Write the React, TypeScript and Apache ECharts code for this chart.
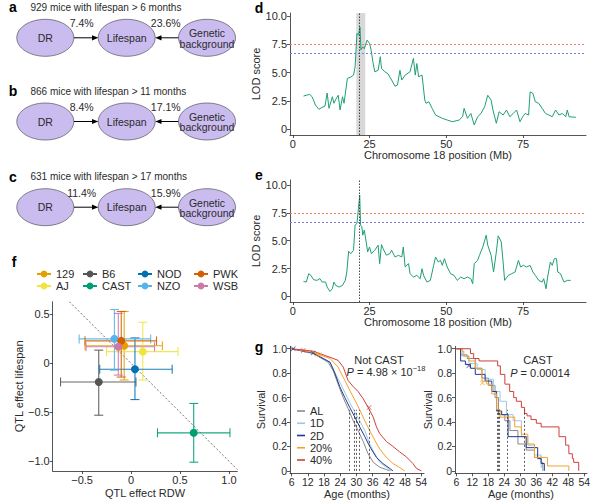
import React, { useEffect, useRef } from "react";
import * as echarts from "echarts";

const FONT = "'Liberation Sans', Arial, Helvetica, sans-serif";
const INK = "#2a2a2a";

// ---------- panels a-c ----------
const diagramLetters = ["a", "b", "c"];
const diagramTitles = [
  "929 mice with lifespan > 6 months",
  "866 mice with lifespan > 11 months",
  "631 mice with lifespan > 17 months",
];
const drPct = ["7.4%", "8.4%", "11.4%"];
const genPct = ["23.6%", "17.1%", "15.9%"];

// ---------- panels d, e ----------
const lodD: [number, number][] = [[3.5,2.93],[5.5,3.08],[6.3,2.87],[7.4,2.14],[8.5,1.76],[9.6,1.94],[10.5,2.05],[11.2,3.2],[11.8,1.85],[12.9,2.87],[13.4,2.3],[14,2.64],[14.8,3.0],[15.4,1.7],[16.2,2.87],[16.7,2.3],[17.8,4.5],[18.9,4.6],[19.8,4.78],[20.3,5.5],[20.9,8.45],[21.4,8.3],[21.9,9.0],[22.2,7.0],[22.8,7.27],[23.3,7.1],[24.2,7.86],[25,7.57],[25.5,7.0],[26.1,5.95],[26.7,5.07],[27.8,5.2],[28.5,6.4],[28.9,5.37],[30,5.07],[31,4.9],[32.2,4.34],[33.3,3.8],[34.1,3.9],[34.9,5.2],[35.5,4.34],[36.6,4.78],[38.2,5.07],[39.3,6.25],[39.9,4.78],[40.4,5.8],[41,4.63],[42.1,4.78],[43,2.58],[43.4,2.29],[44.3,2.43],[45.4,1.85],[46.5,1.26],[47.6,1.11],[48.7,0.97],[50.3,0.82],[52,0.67],[54.2,0.82],[55.3,1.11],[55.8,1.85],[56.9,0.97],[58,1.4],[59.1,0.38],[60.2,1.11],[61.3,1.4],[62.5,2.0],[63.5,3.0],[64.6,2.58],[65.2,1.7],[66.3,0.53],[67.2,1.55],[68.5,1.26],[69.6,1.7],[70.7,1.11],[71.8,1.4],[72.9,1.7],[74,0.67],[74.9,1.11],[75.7,1.4],[76.8,1.26],[77.3,3.3],[78.2,3.17],[79,2.43],[80.1,2.29],[81.2,1.85],[82.3,1.4],[83.4,1.26],[84.5,1.11],[85.6,1.7],[86.7,1.26],[87.8,1.4],[88.9,1.11],[89.4,1.7],[90,1.11],[92.2,1.06]];
const lodE: [number, number][] = [[3.5,1.35],[4.4,1.29],[5.2,2.04],[5.9,1.89],[6.8,1.5],[7.9,1.44],[8.8,1.6],[9.6,1.29],[10.7,1.29],[11.2,0.84],[12.1,0.45],[12.9,0.69],[13.4,1.29],[14,0.99],[15.1,0.84],[16.2,0.99],[17.1,1.44],[17.6,2.19],[18.2,4.05],[18.9,3.84],[19.8,4.14],[20.3,6.4],[20.9,6.55],[21.4,7.9],[21.8,9.1],[22.1,6.4],[22.5,6.25],[22.8,5.5],[23.3,5.95],[23.9,4.9],[24.4,4.0],[25,4.44],[25.6,3.84],[26.7,4.14],[27.8,4.6],[28.3,2.94],[28.9,4.65],[29.4,4.3],[30.5,3.7],[31.6,3.84],[32.2,4.14],[33.3,3.54],[34.4,3.69],[35.5,3.54],[36,4.44],[36.6,2.64],[37.7,2.94],[38.2,2.04],[39.3,1.74],[40.4,1.89],[41.5,1.59],[42.1,2.49],[42.6,1.89],[43.7,1.29],[44.8,1.44],[45.9,2.79],[46.5,3.54],[47.4,3.09],[48.1,3.24],[48.7,2.79],[49.4,3.39],[50.3,2.64],[51.4,2.04],[52.5,1.89],[53.6,1.44],[54.7,1.74],[55.8,1.59],[56.9,1.74],[58,1.59],[58.6,1.14],[59.1,2.94],[60.2,3.24],[60.8,3.69],[61.9,4.44],[63,5.5],[63.5,4.6],[64.6,3.69],[65.4,2.19],[66.3,4.0],[66.9,5.44],[67.9,4.9],[68.5,3.09],[69,1.44],[70.2,1.89],[71.3,2.04],[72.4,2.19],[73.5,3.24],[74.2,2.64],[75.1,2.79],[76.2,2.64],[77.3,2.79],[78.2,2.19],[79,1.89],[80.1,1.44],[81.2,1.29],[81.7,1.59],[82.5,0.69],[83,1.74],[83.9,3.09],[84.5,2.79],[85.2,3.39],[85.9,3.39],[86.3,2.19],[87.2,2.04],[88.3,1.29],[89.4,1.44],[90.5,1.44]];
const lodTicks = [0, 2.5, 5, 7.5, 10];
const chrTicks = [0, 25, 50, 75];
const thresholdRed = 7.5;
const thresholdBlue = 6.7;
const peakD = 21.8;
const bandD = [20.7, 23.6];
const peakE = 21.8;

// ---------- panel f ----------
const strains = ["129", "AJ", "B6", "CAST", "NOD", "NZO", "PWK", "WSB"];
const strainColors = ["#E69F00", "#F0E442", "#555555", "#009E73", "#0072B2", "#56B4E9", "#D55E00", "#CC79A7"];
const effRDW = [-0.07, 0.12, -0.33, 0.64, 0.04, -0.17, -0.1, -0.13];
const effLife = [0.18, 0.12, -0.19, -0.71, -0.06, 0.25, 0.23, 0.17];
const rdwLo = [-0.47, -0.25, -0.72, 0.27, -0.32, -0.53, -0.47, -0.46];
const rdwHi = [0.32, 0.48, 0.05, 1.01, 0.42, 0.2, 0.26, 0.24];
const lifeLo = [-0.17, -0.17, -0.53, -1.01, -0.37, -0.07, -0.14, -0.12];
const lifeHi = [0.53, 0.42, 0.135, -0.41, 0.26, 0.55, 0.53, 0.51];
const fxTicks = [-0.5, 0, 0.5, 1.0];
const fyTicks = [-1.0, -0.5, 0, 0.5];
const legendCols = [["129", "AJ"], ["B6", "CAST"], ["NOD", "NZO"], ["PWK", "WSB"]];

// ---------- panel g ----------
const diets = ["AL", "1D", "2D", "20%", "40%"];
const dietColors = ["#8a8a8a", "#9cc8e4", "#24388f", "#f5a12b", "#cf3f3c"];
const notCast: [number, number][][] = [
  [[6,1],[14,0.96],[19.5,0.89],[21.4,0.82],[23.2,0.71],[25.1,0.6],[26.9,0.51],[28.8,0.41],[30.6,0.33],[32.5,0.24],[34.3,0.14],[36.2,0.07],[38.6,0.03],[41.1,0.01],[42.3,0]],
  [[6,1],[14,0.965],[20.2,0.89],[22.6,0.78],[25.1,0.67],[27.5,0.56],[29.4,0.48],[31.2,0.41],[33.1,0.33],[34.9,0.22],[36.8,0.14],[38.6,0.07],[41.1,0.027],[42.9,0]],
  [[6,1],[14,0.965],[20.2,0.89],[22,0.8],[23.8,0.69],[25.7,0.6],[27.5,0.52],[29.4,0.44],[31.2,0.36],[33.1,0.28],[34.9,0.2],[37.4,0.11],[39.8,0.06],[42.3,0.02],[43.5,0]],
  [[6,1],[14,0.97],[20.2,0.92],[23.2,0.85],[25.7,0.74],[27.5,0.66],[29.4,0.58],[31.2,0.5],[33.1,0.41],[34.9,0.33],[36.8,0.25],[38.6,0.18],[41.1,0.11],[43.5,0.06],[46,0.027],[47.8,0]],
  [[6,1],[14,0.98],[20.2,0.93],[23.2,0.905],[25.1,0.85],[26.9,0.74],[28.8,0.69],[30.6,0.65],[32.5,0.59],[34.3,0.52],[36.2,0.44],[37.4,0.36],[38.6,0.305],[41.1,0.24],[43.5,0.2],[46,0.155],[48.5,0.114],[50.9,0.06],[52.2,0.02],[54,0]],
];
const cast: [number, number][][] = [
  [[6,1],[7.6,0.95],[10.1,0.92],[13.1,0.84],[15.6,0.76],[18.1,0.7],[20.5,0.6],[21.8,0.46],[24.2,0.41],[26.1,0.33],[29.1,0.22],[32.2,0.17],[35.3,0.11],[37.8,0.07],[38.4,0]],
  [[6,1],[8.2,0.94],[10.7,0.88],[13.8,0.83],[16.8,0.75],[19.9,0.65],[22.4,0.57],[24.8,0.46],[27.3,0.41],[30.4,0.28],[32.8,0.21],[35.3,0.13],[37.8,0.03],[38.4,0]],
  [[6,1],[7.6,0.9],[9.4,0.87],[11.3,0.84],[13.1,0.79],[16.8,0.735],[19.3,0.65],[21.1,0.49],[23,0.46],[25.4,0.28],[32.2,0.19],[36.5,0.1],[37.8,0.06],[39,0]],
  [[6,1],[8.2,0.98],[8.8,0.94],[10.7,0.9],[13.1,0.84],[15.6,0.735],[17.4,0.71],[19.3,0.63],[21.1,0.5],[22.4,0.44],[27.9,0.36],[30.4,0.3],[32.8,0.22],[35.3,0.11],[40.2,0.04],[48.2,0]],
  [[6,1],[11.3,0.96],[12.5,0.92],[14.5,0.9],[21.5,0.86],[22.5,0.79],[24.2,0.71],[26,0.65],[27.5,0.6],[28.5,0.57],[30.4,0.52],[31.6,0.47],[32.5,0.45],[34,0.42],[36,0.39],[37.8,0.36],[44.5,0.28],[47,0.21],[48.2,0.14],[49.5,0.1],[50,0.07],[51.9,0]],
];
const mediansNotCast = [27.3, 30, 29.1, 31.2, 34.6];
const mediansCast = [21.5, 25, 21.8, 22, 31.6];
const censorNotCast: [number, number, number][] = [[6.6,1,2],[10.3,0.985,4],[14,0.965,2],[15.4,0.955,3],[16.2,0.95,3],[34.7,0.518,4]];
const censorCast: [number, number, number][] = [[10.7,0.86,2],[15.8,0.72,3]];
const ageTicks = [6, 12, 18, 24, 30, 36, 42, 48, 54];
const survTicks = [0, 0.2, 0.4, 0.6, 0.8, 1.0];

const CROSS = "path://M0,1L1,0L5,4L9,0L10,1L6,5L10,9L9,10L5,6L1,10L0,9L4,5Z";

function valAxis(gridIndex: number, min: number, max: number, ticks: number[], fmt: (v: number) => string, name: string, nameGap: number, fontSize = 11) {
  return {
    type: "value", gridIndex, min, max,
    name, nameLocation: "middle", nameGap,
    nameTextStyle: { fontFamily: FONT, fontSize: 11, color: INK },
    axisLine: { show: true, onZero: false, lineStyle: { color: INK, width: 0.8 } },
    axisTick: { show: true, length: 3, inside: false, customValues: ticks, lineStyle: { color: INK, width: 0.8 } },
    axisLabel: { customValues: ticks, formatter: fmt, fontFamily: FONT, fontSize, color: INK, margin: 3 },
    splitLine: { show: false },
  };
}

const f1 = (v: number) => (v === 0 ? "0" : v.toFixed(1));
const fInt = (v: number) => String(v);
const fSigned = (v: number) => (v === 0 ? "0" : (v < 0 ? "\u2212" : "") + Math.abs(v).toFixed(1));

function txt(text: string, x: number, y: number, size = 10.5, extra: any = {}) {
  return {
    type: "text", x, y, silent: true,
    style: { text, fontFamily: FONT, fontSize: size, fill: INK, align: "center", verticalAlign: "middle", ...extra },
  };
}

function buildOption() {
  const graphic: any[] = [];
  // panels a-c
  const titleY = [7.3, 91, 176.7];
  diagramLetters.forEach((letter, i) => {
    const ty = titleY[i];
    const cy = ty + 30.5;
    const py = ty + 16;
    graphic.push(txt(letter, 13, ty, 14, { fontWeight: "bold", fill: "#000" }));
    graphic.push(txt(diagramTitles[i], 30.5, ty, 10, { align: "left" }));
    const ell = (cx: number) => ({
      type: "ellipse", silent: true,
      shape: { cx, cy, rx: 28.5, ry: 18.5 },
      style: { fill: "#cbbcf0", stroke: "#3b3b3b", lineWidth: 0.6 },
    });
    graphic.push(ell(45.3), ell(126.7), ell(207));
    graphic.push(txt("DR", 45.3, cy, 10.5));
    graphic.push(txt("Lifespan", 126.7, cy, 10.5));
    graphic.push(txt("Genetic\nbackground", 207, cy + 0.6, 10.5, { lineHeight: 10.5 }));
    // arrows
    graphic.push({ type: "line", silent: true, shape: { x1: 74, y1: cy, x2: 94, y2: cy }, style: { stroke: "#000", lineWidth: 1 } });
    graphic.push({ type: "polygon", silent: true, shape: { points: [[98.3, cy], [92, cy - 2.6], [92, cy + 2.6]] }, style: { fill: "#000" } });
    graphic.push({ type: "line", silent: true, shape: { x1: 178.3, y1: cy, x2: 159, y2: cy }, style: { stroke: "#000", lineWidth: 1 } });
    graphic.push({ type: "polygon", silent: true, shape: { points: [[155.2, cy], [161.5, cy - 2.6], [161.5, cy + 2.6]] }, style: { fill: "#000" } });
    graphic.push(txt(drPct[i], 81.7, py, 10.5));
    graphic.push(txt(genPct[i], 165.7, py, 10.5));
  });
  graphic.push(txt("d", 259, 7.5, 14, { fontWeight: "bold", fill: "#000" }));
  graphic.push(txt("e", 259, 175, 14, { fontWeight: "bold", fill: "#000" }));
  graphic.push(txt("f", 14, 262, 14, { fontWeight: "bold", fill: "#000" }));
  graphic.push(txt("g", 259, 347, 14, { fontWeight: "bold", fill: "#000" }));
  graphic.push(txt("Not CAST", 379, 360, 11));
  graphic.push({
    type: "text", x: 386, y: 372, silent: true,
    style: {
      text: "{i|P} = 4.98 \u00d7 10{s|\u221218}",
      fontFamily: FONT, fontSize: 11, fill: INK, align: "center", verticalAlign: "middle",
      rich: {
        i: { fontStyle: "italic", fontFamily: FONT, fontSize: 11, fill: INK },
        s: { fontFamily: FONT, fontSize: 7.5, fill: INK, padding: [0, 0, 7, 0] },
      },
    },
  });
  graphic.push(txt("CAST", 538, 360, 11));
  graphic.push({
    type: "text", x: 540, y: 373, silent: true,
    style: {
      text: "{i|P} = 0.00014",
      fontFamily: FONT, fontSize: 11, fill: INK, align: "center", verticalAlign: "middle",
      rich: { i: { fontStyle: "italic", fontFamily: FONT, fontSize: 11, fill: INK } },
    },
  });

  const grid = [
    { left: 290, top: 13, width: 296, height: 122, outerBoundsMode: "none" },
    { left: 290, top: 180, width: 296, height: 122, outerBoundsMode: "none" },
    { left: 52.7, top: 301.7, width: 184.6, height: 169.3, outerBoundsMode: "none" },
    { left: 290, top: 346.3, width: 134, height: 127, outerBoundsMode: "none" },
    { left: 455, top: 346.3, width: 132, height: 127, outerBoundsMode: "none" },
  ];
  const xAxis = [
    valAxis(0, -0.9, 95.5, chrTicks, fInt, "Chromosome 18 position (Mb)", 14),
    valAxis(1, -0.9, 95.5, chrTicks, fInt, "Chromosome 18 position (Mb)", 14),
    valAxis(2, -0.8, 1.085, fxTicks, fSigned, "QTL effect RDW", 16),
    valAxis(3, 5.4, 55, ageTicks, fInt, "Age (months)", 15, 10.5),
    valAxis(4, 5.5, 55, ageTicks, fInt, "Age (months)", 15, 10.5),
  ];
  const yAxis = [
    valAxis(0, -0.5, 10.25, lodTicks, f1, "LOD score", 26),
    valAxis(1, -0.5, 10.45, lodTicks, f1, "LOD score", 26),
    valAxis(2, -1.1, 0.63, fyTicks, fSigned, "QTL effect lifespan", 27),
    valAxis(3, -0.02, 1.02, survTicks, f1, "Survival", 24, 10.5),
    valAxis(4, -0.02, 1.02, survTicks, f1, "Survival", 19, 10.5),
  ];

  const series: any[] = [];
  const thresholdLines = (peak: number) => ({
    silent: true, symbol: ["none", "none"], label: { show: false },
    lineStyle: { type: [2, 2], width: 1 },
    data: [
      { yAxis: thresholdRed, lineStyle: { color: "#f07a70", type: [2, 2], width: 1 } },
      { yAxis: thresholdBlue, lineStyle: { color: "#7080e8", type: [2, 2], width: 1 } },
      { xAxis: peak, lineStyle: { color: "#333", type: [1.5, 1.5], width: 0.9 } },
    ],
  });
  series.push({
    type: "line", name: "LOD d", xAxisIndex: 0, yAxisIndex: 0, data: lodD, symbol: "none",
    lineStyle: { color: "#1f9e78", width: 1 }, z: 3,
    markArea: { silent: true, itemStyle: { color: "rgba(190,190,190,0.6)" }, data: [[{ xAxis: bandD[0] }, { xAxis: bandD[1] }]] },
    markLine: thresholdLines(peakD),
  });
  series.push({
    type: "line", name: "LOD e", xAxisIndex: 1, yAxisIndex: 1, data: lodE, symbol: "none",
    lineStyle: { color: "#1f9e78", width: 1 }, z: 3,
    markLine: thresholdLines(peakE),
  });

  // panel f
  series.push({
    type: "line", name: "diag", xAxisIndex: 2, yAxisIndex: 2, data: [[-0.63, 0.63], [1.085, -1.085]],
    symbol: "none", silent: true, lineStyle: { color: "#333", width: 0.7, type: [2, 2] }, z: 1,
  });
  strains.forEach((s, i) => {
    series.push({
      type: "line", name: s, xAxisIndex: 2, yAxisIndex: 2, data: [[effRDW[i], effLife[i]]],
      symbol: "circle", symbolSize: 8, itemStyle: { color: strainColors[i] },
      lineStyle: { color: strainColors[i], width: 1.2 }, z: 6,
    });
  });
  strains.forEach((s, i) => {
    const col = strainColors[i];
    series.push({
      type: "custom", name: s, xAxisIndex: 2, yAxisIndex: 2, z: 4, silent: true,
      data: [[effRDW[i], effLife[i], rdwLo[i], rdwHi[i], lifeLo[i], lifeHi[i]]],
      encode: { x: 0, y: 1 },
      renderItem: (_p: any, api: any) => {
        const x = api.value(0), y = api.value(1);
        const c = api.coord([x, y]);
        const xl = api.coord([api.value(2), y])[0];
        const xh = api.coord([api.value(3), y])[0];
        const yl = api.coord([x, api.value(4)])[1];
        const yh = api.coord([x, api.value(5)])[1];
        const cap = 4.5;
        const st = { stroke: col, lineWidth: 1.1, opacity: 0.9 };
        const L = (x1: number, y1: number, x2: number, y2: number) => ({ type: "line", shape: { x1, y1, x2, y2 }, style: st });
        return {
          type: "group",
          children: [
            L(xl, c[1], xh, c[1]), L(xl, c[1] - cap, xl, c[1] + cap), L(xh, c[1] - cap, xh, c[1] + cap),
            L(c[0], yl, c[0], yh), L(c[0] - cap, yl, c[0] + cap, yl), L(c[0] - cap, yh, c[0] + cap, yh),
          ],
        };
      },
    });
  });

  // panel g
  const addSurv = (data: [number, number][][], meds: number[], axis: number, step: boolean) => {
    diets.forEach((d, i) => {
      series.push({
        type: "line", name: d, xAxisIndex: axis, yAxisIndex: axis, data: data[i], symbol: "none",
        step: step ? "end" : false,
        lineStyle: { color: dietColors[i], width: 1 }, itemStyle: { color: dietColors[i] }, z: 3 + (i === 4 ? 1 : 0),
        markLine: {
          silent: true, symbol: ["none", "none"], label: { show: false },
          lineStyle: { color: "#333", type: [2, 2], width: 0.8 },
          data: [[{ coord: [meds[i], 0] }, { coord: [meds[i], 0.5] }]],
        },
      });
    });
  };
  addSurv(notCast, mediansNotCast, 3, false);
  addSurv(cast, mediansCast, 4, true);
  const addCensor = (pts: [number, number, number][], axis: number) => {
    series.push({
      type: "scatter", name: "censor" + axis, xAxisIndex: axis, yAxisIndex: axis, silent: true, z: 6,
      symbol: CROSS, symbolSize: 5,
      data: pts.map((p) => ({ value: [p[0], p[1]], itemStyle: { color: dietColors[p[2]] } })),
    });
  };
  addCensor(censorNotCast, 3);
  addCensor(censorCast, 4);

  const legendColLeft = [36, 82, 137, 193];
  const legend: any[] = legendCols.map((names, k) => ({
    data: names, orient: "vertical", left: legendColLeft[k], top: 268, padding: 0, itemGap: 0,
    itemWidth: 14, itemHeight: 8.5, selectedMode: false,
    textStyle: { fontFamily: FONT, fontSize: 11, color: INK, lineHeight: 12 },
  }));
  legend.push({
    data: diets, orient: "vertical", left: 297, top: 405, padding: 0, itemGap: 0.25,
    icon: "rect", itemWidth: 8, itemHeight: 1.6, selectedMode: false,
    textStyle: { fontFamily: FONT, fontSize: 11, color: INK, lineHeight: 12 },
  });

  return {
    animation: false,
    backgroundColor: "#fff",
    textStyle: { fontFamily: FONT },
    grid, xAxis, yAxis, series, legend, graphic,
  };
}

export default function App() {
  const ref = useRef<HTMLDivElement>(null);
  useEffect(() => {
    const chart = echarts.init(ref.current!, null, { renderer: "svg" });
    chart.setOption(buildOption() as any);
    return () => chart.dispose();
  }, []);
  return <div ref={ref} style={{ position: "absolute", left: 0, top: 0, width: 600, height: 500, background: "#fff" }} />;
}
